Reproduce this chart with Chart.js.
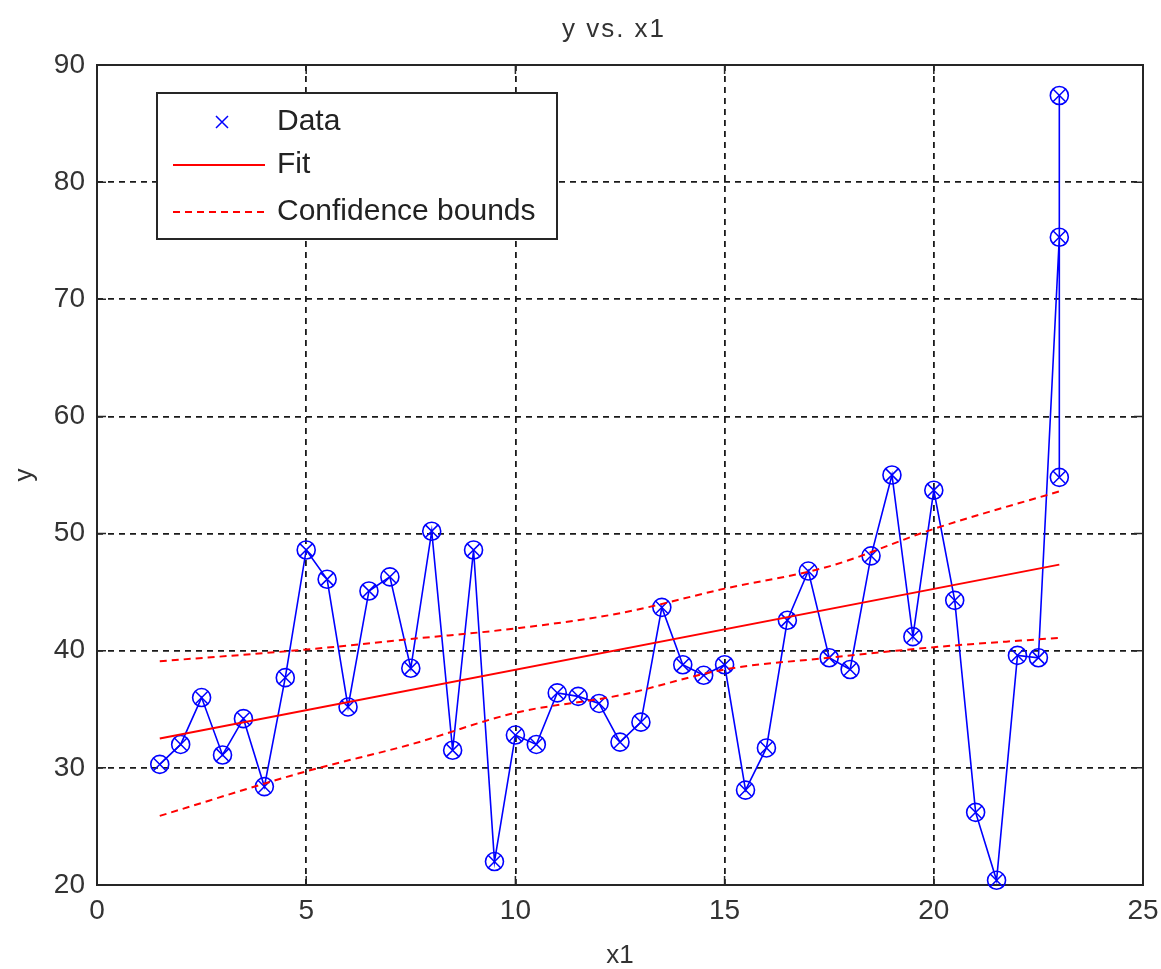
<!DOCTYPE html>
<html>
<head>
<meta charset="utf-8">
<title>y vs. x1</title>
<script src="https://cdn.jsdelivr.net/npm/chart.js@4.4.1/dist/chart.umd.min.js"></script>
<style>
  html, body { margin: 0; padding: 0; background: #fff; }
  #chart { display: block; }
</style>
</head>
<body>
<canvas id="chart" width="1161" height="969"></canvas>
<script>
const TITLE = 'y vs. x1';
const X_LABEL = 'x1';
const Y_LABEL = 'y';
const LABEL_DATA = 'Data';
const LABEL_FIT = 'Fit';
const LABEL_BOUNDS = 'Confidence bounds';

// observations in plotting order (three readings at x1 = 23)
const dataX = [1.5, 2, 2.5, 3, 3.5, 4, 4.5, 5, 5.5, 6, 6.5, 7, 7.5, 8, 8.5, 9, 9.5, 10, 10.5, 11,
               11.5, 12, 12.5, 13, 13.5, 14, 14.5, 15, 15.5, 16, 16.5, 17, 17.5, 18, 18.5, 19, 19.5, 20,
               20.5, 21, 21.5, 22, 22.5, 23, 23, 23];
const dataY = [30.3, 32.0, 36.0, 31.1, 34.2, 28.4, 37.7, 48.6, 46.1, 35.2, 45.1, 46.3, 38.5, 50.2, 31.5,
               48.6, 22.0, 32.8, 32.0, 36.4, 36.1, 35.5, 32.2, 33.9, 43.7, 38.8, 37.9, 38.8, 28.1, 31.7,
               42.6, 46.8, 39.4, 38.4, 48.1, 55.0, 41.2, 53.7, 44.3, 26.2, 20.4, 39.6, 39.4, 75.3, 87.4, 54.8];

// straight fitted line (end points)
const fitX = [1.5, 23];
const fitY = [32.5, 47.35];

// confidence bounds
const boundX = [1.5, 5, 7.5, 10, 12.5, 15, 17.5, 20, 23];
const upperY = [39.1, 40.1, 41.0, 41.9, 43.2, 45.3, 47.2, 50.4, 53.6];
const lowerY = [25.9, 29.7, 32.0, 34.7, 36.2, 38.4, 39.4, 40.3, 41.1];

const X_TICK_STEP = 5;
const Y_TICK_STEP = 10;

const FONT = '"Liberation Sans", Arial, sans-serif';
const TEXT = '#333';
const BLUE = '#0000ff';
const RED = '#ff0000';

const pts = (xs, ys) => xs.map((x, i) => ({ x, y: ys[i] }));

// axes box with inner tick marks
const frame = {
  id: 'frame',
  beforeDatasetsDraw(chart) {
    const { ctx, chartArea: a, scales: { x, y } } = chart;
    ctx.save();
    ctx.strokeStyle = '#262626';
    ctx.lineWidth = 2;
    ctx.strokeRect(a.left, a.top, a.right - a.left, a.bottom - a.top);
    ctx.lineWidth = 1.5;
    ctx.beginPath();
    x.ticks.forEach(t => {
      const px = x.getPixelForValue(t.value);
      ctx.moveTo(px, a.bottom); ctx.lineTo(px, a.bottom - 9);
      ctx.moveTo(px, a.top);    ctx.lineTo(px, a.top + 9);
    });
    y.ticks.forEach(t => {
      const py = y.getPixelForValue(t.value);
      ctx.moveTo(a.left, py);  ctx.lineTo(a.left + 9, py);
      ctx.moveTo(a.right, py); ctx.lineTo(a.right - 9, py);
    });
    ctx.stroke();
    ctx.restore();
  }
};

// title centred over the plot area
const plotTitle = {
  id: 'plotTitle',
  afterDraw(chart) {
    const { ctx, chartArea: a } = chart;
    ctx.save();
    ctx.font = '26px ' + FONT;
    ctx.fillStyle = TEXT;
    ctx.textAlign = 'center';
    ctx.textBaseline = 'alphabetic';
    if ('letterSpacing' in ctx) ctx.letterSpacing = '2px';
    ctx.fillText(TITLE, (a.left + a.right) / 2 - 6, 37);
    ctx.restore();
  }
};

// boxed legend in the upper left of the axes
const boxLegend = {
  id: 'boxLegend',
  afterDatasetsDraw(chart) {
    const { ctx, chartArea: a } = chart;
    const left = a.left + 60, top = a.top + 28, w = 400, h = 146;
    ctx.save();
    ctx.fillStyle = '#fff';
    ctx.fillRect(left, top, w, h);
    ctx.strokeStyle = '#262626';
    ctx.lineWidth = 2;
    ctx.strokeRect(left, top, w, h);

    const rows = [top + 29, top + 72, top + 119];
    // Data: x marker only
    ctx.strokeStyle = BLUE;
    ctx.lineWidth = 1.5;
    const mx = left + 65, d = 6;
    ctx.beginPath();
    ctx.moveTo(mx - d, rows[0] - d); ctx.lineTo(mx + d, rows[0] + d);
    ctx.moveTo(mx + d, rows[0] - d); ctx.lineTo(mx - d, rows[0] + d);
    ctx.stroke();
    // Fit
    ctx.strokeStyle = RED;
    ctx.lineWidth = 2;
    ctx.beginPath();
    ctx.moveTo(left + 16, rows[1]); ctx.lineTo(left + 108, rows[1]);
    ctx.stroke();
    // Confidence bounds
    ctx.setLineDash([7, 5]);
    ctx.beginPath();
    ctx.moveTo(left + 16, rows[2]); ctx.lineTo(left + 108, rows[2]);
    ctx.stroke();
    ctx.setLineDash([]);

    ctx.fillStyle = '#222';
    ctx.font = '30px ' + FONT;
    ctx.textAlign = 'left';
    ctx.textBaseline = 'middle';
    [LABEL_DATA, LABEL_FIT, LABEL_BOUNDS].forEach((t, i) => ctx.fillText(t, left + 120, rows[i]));
    ctx.restore();
  }
};

new Chart(document.getElementById('chart'), {
  type: 'line',
  data: {
    datasets: [
      {
        label: LABEL_FIT,
        data: pts(fitX, fitY),
        borderColor: RED,
        borderWidth: 2,
        pointRadius: 0,
        tension: 0
      },
      {
        label: LABEL_BOUNDS,
        data: pts(boundX, upperY),
        borderColor: RED,
        borderWidth: 2,
        borderDash: [7, 5],
        pointRadius: 0,
        cubicInterpolationMode: 'monotone'
      },
      {
        label: LABEL_BOUNDS,
        data: pts(boundX, lowerY),
        borderColor: RED,
        borderWidth: 2,
        borderDash: [7, 5],
        pointRadius: 0,
        cubicInterpolationMode: 'monotone'
      },
      {
        label: LABEL_DATA,
        data: pts(dataX, dataY),
        borderColor: BLUE,
        borderWidth: 1.6,
        pointStyle: 'circle',
        pointRadius: 9,
        pointBorderColor: BLUE,
        pointBackgroundColor: 'rgba(0,0,0,0)',
        pointBorderWidth: 1.6,
        tension: 0,
        clip: false
      },
      {
        label: LABEL_DATA,
        data: pts(dataX, dataY),
        showLine: false,
        pointStyle: 'crossRot',
        pointRadius: 9,
        pointBorderColor: BLUE,
        pointBorderWidth: 1.5,
        clip: false
      }
    ]
  },
  options: {
    responsive: false,
    devicePixelRatio: 1,
    animation: false,
    events: [],
    layout: { padding: { top: 65, right: 18, bottom: 0, left: 0 } },
    plugins: {
      legend: { display: false },
      tooltip: { enabled: false },
      title: { display: false }
    },
    scales: {
      x: {
        type: 'linear',
        min: 0,
        max: 25,
        afterFit: s => { s.height = 84; s.paddingLeft = 0; s.paddingRight = 0; },
        ticks: { stepSize: X_TICK_STEP, padding: 9, color: TEXT, font: { size: 28, family: FONT } },
        grid: { color: '#1a1a1a', lineWidth: 1.8, drawTicks: false },
        border: { display: false, dash: [6, 5] },
        title: { display: true, text: X_LABEL, color: TEXT, padding: 0, font: { size: 26, family: FONT, lineHeight: 1 } }
      },
      y: {
        type: 'linear',
        min: 20,
        max: 90,
        afterFit: s => { s.width = 97; s.paddingTop = 0; s.paddingBottom = 0; },
        ticks: { stepSize: Y_TICK_STEP, padding: 12, color: TEXT, font: { size: 28, family: FONT } },
        grid: { color: '#1a1a1a', lineWidth: 1.8, drawTicks: false },
        border: { display: false, dash: [6, 5] },
        title: { display: true, text: Y_LABEL, color: TEXT, padding: { top: 12, bottom: 0 }, font: { size: 26, family: FONT, lineHeight: 1 } }
      }
    }
  },
  plugins: [frame, boxLegend, plotTitle]
});
</script>
</body>
</html>
